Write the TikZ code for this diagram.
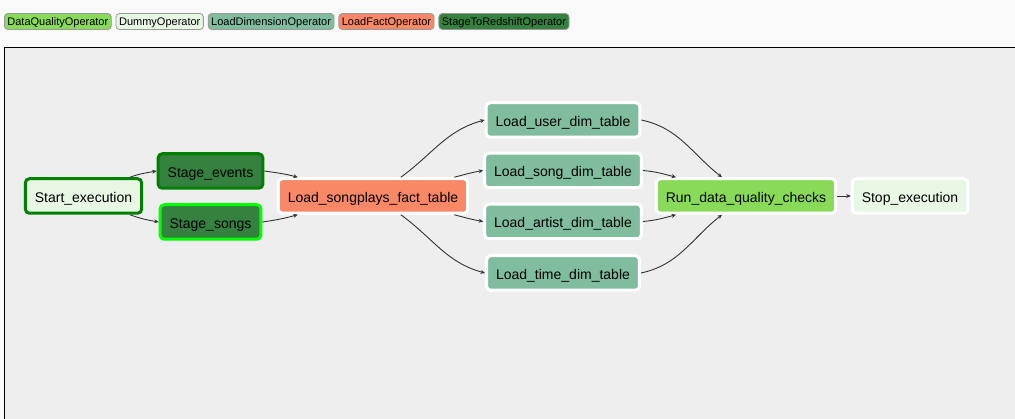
\documentclass[tikz,border=0pt]{standalone}
\usepackage{fontspec}
\setmainfont{Liberation Sans}
\usetikzlibrary{arrows.meta,positioning}
\definecolor{dqgreen}{HTML}{89DA59}
\definecolor{dummy}{HTML}{E8F7E4}
\definecolor{dimgreen}{HTML}{80BD9E}
\definecolor{factred}{HTML}{F98866}
\definecolor{stagegreen}{HTML}{358140}
\definecolor{success}{HTML}{008000}
\definecolor{running}{HTML}{00FF00}
\definecolor{panel}{HTML}{EEEEEE}
\definecolor{page}{HTML}{F9F9F9}
\definecolor{edgegray}{HTML}{333333}
\tikzset{
  every picture/.style={line join=round, >=Stealth},
  task/.style={draw=white, line width=3pt, rounded corners=4pt, inner xsep=9.5pt, minimum height=34.5pt, text height=12.5pt, text depth=0pt, font=\fontsize{14}{16}\selectfont},
  legend/.style={draw=black!40, line width=0.8pt, rounded corners=3.5pt, inner xsep=3pt, inner ysep=0pt, minimum height=16pt, text height=8pt, text depth=0pt, font=\fontsize{11}{13}\selectfont},
  dep/.style={draw=edgegray, line width=0.9pt, -{Stealth[length=4.5pt,width=4pt]}},
}
\begin{document}
\begin{tikzpicture}[x=1pt,y=1pt]
\useasboundingbox (0,0) rectangle (1015,-419);
\clip (0,0) rectangle (1015,-419);
\fill[page] (0,0) rectangle (1015,-419);
\filldraw[fill=panel, draw=black, line width=1pt] (4,-48) rectangle (1030,-430);
% legend
\node[legend, fill=dqgreen, anchor=west] (lgdq) at (4,-21.5) {DataQualityOperator};
\node[legend, fill=dummy, right=4pt of lgdq] (lgdummy) {DummyOperator};
\node[legend, fill=dimgreen, right=4pt of lgdummy] (lgdim) {LoadDimensionOperator};
\node[legend, fill=factred, right=4pt of lgdim] (lgfact) {LoadFactOperator};
\node[legend, fill=stagegreen, right=4pt of lgfact] (lgstage) {StageToRedshiftOperator};
% tasks
\node[task, fill=dummy, draw=success] (start) at (83.5,-196) {Start\_execution};
\node[task, fill=stagegreen, draw=success] (events) at (210.5,-171) {Stage\_events};
\node[task, fill=stagegreen, draw=running] (songs) at (210.5,-222) {Stage\_songs};
\node[task, fill=factred] (fact) at (373,-196) {Load\_songplays\_fact\_table};
\node[task, fill=dimgreen] (user) at (563,-120) {Load\_user\_dim\_table};
\node[task, fill=dimgreen] (song) at (563,-170.5) {Load\_song\_dim\_table};
\node[task, fill=dimgreen] (artist) at (563,-221.5) {Load\_artist\_dim\_table};
\node[task, fill=dimgreen] (time) at (563,-273) {Load\_time\_dim\_table};
\node[task, fill=dqgreen] (run) at (746,-196) {Run\_data\_quality\_checks};
\node[task, fill=dummy] (stop) at (910,-196) {Stop\_execution};
% dependencies
\draw[dep] (start.22) to[out=20,in=190] (events.west);
\draw[dep] (start.-22) to[out=-20,in=170] (songs.west);
\draw[dep] (events.east) to[out=-8,in=165] (fact.166);
\draw[dep] (songs.east) to[out=8,in=195] (fact.194);
\draw[dep] (fact.34) to[out=36,in=195] (user.west);
\draw[dep] (fact.13) to[out=15,in=190] (song.west);
\draw[dep] (fact.-13) to[out=-15,in=170] (artist.west);
\draw[dep] (fact.-34) to[out=-36,in=165] (time.west);
\draw[dep] (user.east) to[out=-12,in=142] (run.142);
\draw[dep] (song.east) to[out=-5,in=165] (run.165);
\draw[dep] (artist.east) to[out=5,in=195] (run.195);
\draw[dep] (time.east) to[out=12,in=218] (run.218);
\draw[dep] (run) -- (stop);
\end{tikzpicture}
\end{document}
